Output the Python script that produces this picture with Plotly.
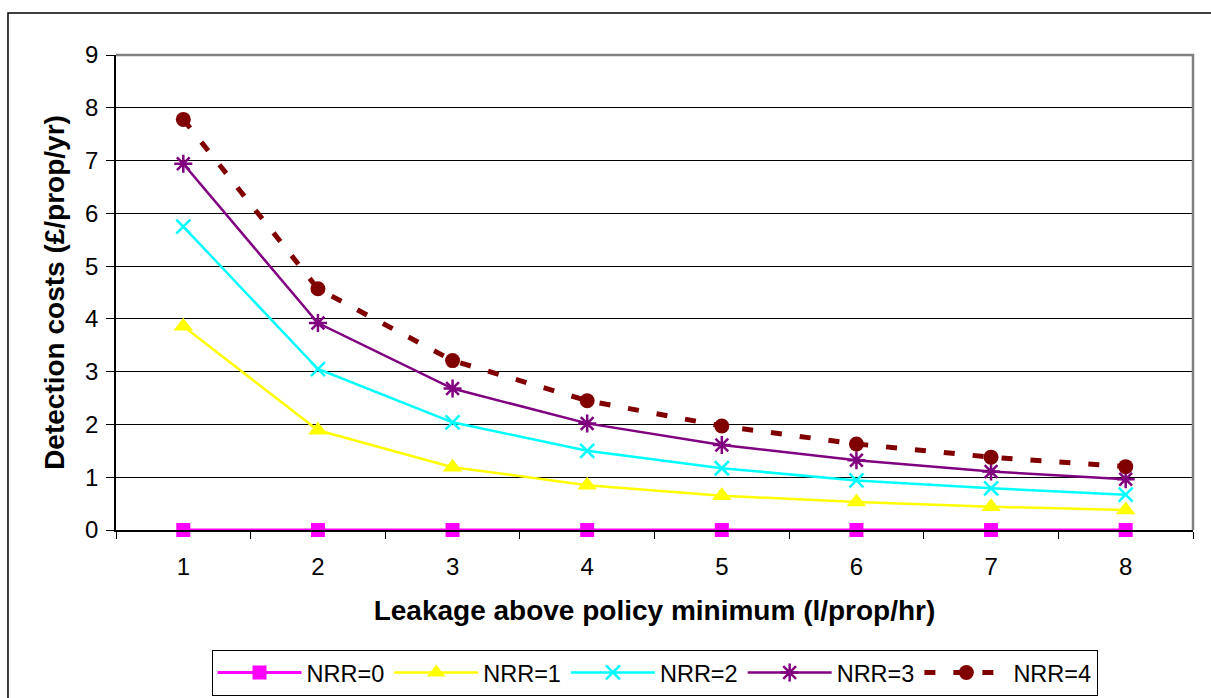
import plotly.graph_objects as go

leakage = [1, 2, 3, 4, 5, 6, 7, 8]
nrr0 = [0, 0, 0, 0, 0, 0, 0, 0]
nrr1 = [3.86, 1.89, 1.19, 0.85, 0.65, 0.53, 0.44, 0.38]
nrr2 = [5.75, 3.05, 2.04, 1.50, 1.17, 0.94, 0.79, 0.67]
nrr3 = [6.94, 3.92, 2.68, 2.02, 1.61, 1.32, 1.11, 0.96]
nrr4 = [7.78, 4.57, 3.21, 2.45, 1.97, 1.63, 1.38, 1.20]
names = ["NRR=0", "NRR=1", "NRR=2", "NRR=3", "NRR=4"]

FONT = "Liberation Sans, Arial, sans-serif"

fig = go.Figure()
fig.add_trace(go.Scatter(x=leakage, y=nrr0, name=names[0], mode="lines+markers",
                         line=dict(color="#FF00FF", width=3), cliponaxis=False,
                         marker=dict(symbol="square", size=14, color="#FF00FF")))
fig.add_trace(go.Scatter(x=leakage, y=nrr1, name=names[1], mode="lines+markers",
                         line=dict(color="#FFFF00", width=2.5), cliponaxis=False,
                         marker=dict(symbol="triangle-up", size=17, color="#FFFF00")))
fig.add_trace(go.Scatter(x=leakage, y=nrr2, name=names[2], mode="lines+markers",
                         line=dict(color="#00FFFF", width=2.5), cliponaxis=False,
                         marker=dict(symbol="x-thin-open", size=14, color="#00FFFF",
                                     line=dict(color="#00FFFF", width=2.5))))
fig.add_trace(go.Scatter(x=leakage, y=nrr3, name=names[3], mode="lines+markers",
                         line=dict(color="#800080", width=2.5), cliponaxis=False,
                         marker=dict(symbol="asterisk-open", size=15, color="#800080",
                                     line=dict(color="#800080", width=2.5))))
fig.add_trace(go.Scatter(x=leakage, y=nrr4, name=names[4], mode="lines+markers",
                         line=dict(color="#800000", width=5, dash="11px,18px"),
                         cliponaxis=False,
                         marker=dict(symbol="circle", size=15, color="#800000")))

fig.update_layout(
    width=1211, height=698,
    margin=dict(l=116, r=18, t=55, b=168, autoexpand=False),
    paper_bgcolor="white", plot_bgcolor="white",
    font=dict(family=FONT, size=24, color="black"),
    showlegend=True,
    legend=dict(orientation="h", x=0.5, xanchor="center", y=-0.252, yanchor="top",
                bordercolor="black", borderwidth=1, font=dict(size=23.5, family=FONT),
                itemwidth=84, traceorder="normal"),
    xaxis=dict(range=[0.5, 8.5], tickvals=leakage, ticktext=[str(v) for v in leakage],
               ticks="", showgrid=False, zeroline=False, automargin=False,
               showline=True, linecolor="black", linewidth=1.5,
               minor=dict(tick0=0.5, dtick=1, ticks="outside", ticklen=7,
                          tickcolor="black", showgrid=False),
               ticklabelstandoff=14,
               title=dict(text="<b>Leakage above policy minimum (l/prop/hr)</b>",
                          font=dict(size=28, family=FONT), standoff=22)),
    yaxis=dict(range=[0, 9], dtick=1, tick0=0, ticks="outside", ticklen=8,
               tickcolor="black", showgrid=True, gridcolor="black", gridwidth=1,
               zeroline=False, showline=True, linecolor="black", linewidth=1.5,
               ticklabelstandoff=3, automargin=False,
               title=dict(text="<b>Detection costs (£/prop/yr)</b>",
                          font=dict(size=28, family=FONT), standoff=12)),
    shapes=[
        dict(type="path", xref="paper", yref="paper", path="M 0,1 L 1,1 L 1,0",
             line=dict(color="#808080", width=2.5), layer="above"),
        dict(type="rect", xref="paper", yref="paper", x0=-0.1003, y0=-0.6,
             x1=1.3, y1=1.0884, line=dict(color="black", width=1.5), layer="below"),
    ],
)

fig.write_html("out.html")
